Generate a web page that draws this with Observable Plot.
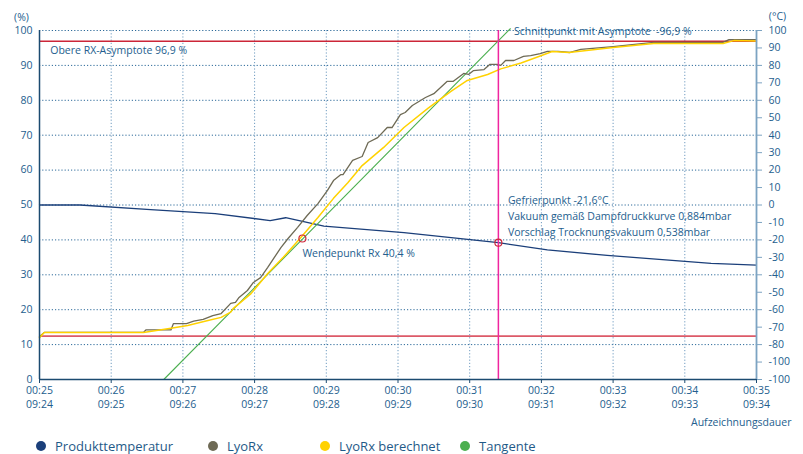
<!DOCTYPE html>
<html>
<head>
<meta charset="utf-8">
<script src="https://cdn.jsdelivr.net/npm/d3@7"></script>
<script src="https://cdn.jsdelivr.net/npm/@observablehq/plot@0.6"></script>
<style>
  body { margin: 0; background: #fff; font-family: "Open Sans", sans-serif; }
  #chart { position: relative; width: 803px; }
  #legend { position: relative; width: 803px; height: 22px; font-size: 13px; color: #1f5a88; }
  .item { position: absolute; top: 4px; white-space: nowrap; line-height: 16px; }
  .dot { position: absolute; top: 3px; width: 10px; height: 10px; border-radius: 50%; }
</style>
</head>
<body>
<div id="chart"></div>
<div id="legend"></div>
<script>
// ---- data (seconds since 00:25:00) ----
const elapsedLabels = ["00:25","00:26","00:27","00:28","00:29","00:30","00:31","00:32","00:33","00:34","00:35"];
const clockLabels   = ["09:24","09:25","09:26","09:27","09:28","09:29","09:30","09:31","09:32","09:33","09:34"];
const xTicks = [0,60,120,180,240,300,360,420,480,540,600];
const pctTicks = [0,10,20,30,40,50,60,70,80,90,100];
const tempTickLabels = ["100","90","80","70","60","50","40","30","20","10","0","-10","-20","-30","-40","-50","-60","-70","-80","-100","-100"];

const lyoT = [0,4,87,89,110,112,123,129,137,145,152,160,164,167,174,179,185,191,196,202,208,216,224,233,241,246,252,254,262,270,275,283,291,295,302,306,312,323,330,341,346,355,359,363,372,377,383,386,390,397,405,411,419,425,434,444,453,480,514,572,577,600];
const lyoV = [12.3,13.5,13.5,14.2,14.2,16.0,16.0,16.7,17.2,18.3,18.9,21.8,22.1,23.5,25.5,27.8,29.2,32.1,34.7,37.8,40.4,43.6,47.0,50.4,54.2,57.0,58.7,58.7,62.8,63.9,67.9,69.3,72.2,72.2,75.9,76.5,78.5,80.8,81.9,85.4,85.4,87.7,87.4,88.5,88.8,90.3,90.3,90.0,91.4,91.4,92.6,92.8,93.4,94.0,94.0,93.7,94.6,95.4,96.6,96.6,97.4,97.4];

const calcT = [0,4,87,110,124,141,152,160,162,177,191,204,218,233,246,258,270,288,305,325,344,358,375,386,403,419,429,443,480,514,572,581,600];
const calcV = [12.0,13.5,13.5,14.7,15.5,16.9,17.8,19.3,20.3,24.6,30.4,35.0,40.4,46.4,51.9,56.4,61.3,66.5,72.2,77.7,82.5,85.7,87.4,89.0,90.7,92.7,94.0,93.7,95.1,96.3,96.3,97.1,97.0];

const tempT = [0,34,93,147,193,206,238,305,384,425,475,562,600];
const tempC = [0,0,-2.6,-4.9,-8.9,-7.3,-12.1,-15.8,-21.6,-25.7,-28.9,-33.4,-34.4];

const tangentT = [104, 394];
const tangentV = [0, 100.5];

const asymptoteTop = 96.9;
const asymptoteBottom = 12.4;
const schnittT = 384;
const wendeT = 220, wendeV = 40.4;
const gefrierT = 384, gefrierC = -21.6;

// temperature mapped onto the percent scale (right axis 100 .. -100)
const toPct = c => 50 + c / 2;

const lyo = lyoT.map((t, i) => ({t, v: lyoV[i]}));
const calc = calcT.map((t, i) => ({t, v: calcV[i]}));
const temp = tempT.map((t, i) => ({t, v: toPct(tempC[i])}));
const tangent = tangentT.map((t, i) => ({t, v: tangentV[i]}));

const textColor = "#245e8e";
const font = "Open Sans";

const chart = Plot.plot({
  width: 803,
  height: 432,
  marginLeft: 39,
  marginRight: 47,
  marginTop: 30,
  marginBottom: 53,
  style: {fontFamily: font, fontSize: "10.5px", color: textColor, background: "#fff"},
  x: {domain: [0, 600]},
  y: {domain: [0, 100]},
  marks: [
    // grid
    Plot.ruleY(pctTicks.slice(1), {stroke: "#2d6a9a", strokeDasharray: "1.2,2", strokeWidth: 1}),
    Plot.ruleX(xTicks.slice(1, -1), {stroke: "#6f9bc0", strokeDasharray: "1.2,2", strokeWidth: 1}),
    // asymptotes
    Plot.ruleY([asymptoteTop], {stroke: "#cc2638", strokeWidth: 1.4}),
    Plot.ruleY([asymptoteBottom], {stroke: "#dc5a68", strokeWidth: 1.8}),
    // series
    Plot.line(temp, {x: "t", y: "v", stroke: "#1b3f7a", strokeWidth: 1.3}),
    Plot.line(tangent, {x: "t", y: "v", stroke: "#4caf50", strokeWidth: 1.1}),
    Plot.line(lyo, {x: "t", y: "v", stroke: "#6e6a55", strokeWidth: 1.3}),
    Plot.line(calc, {x: "t", y: "v", stroke: "#ffd200", strokeWidth: 1.5}),
    // intersection line
    Plot.ruleX([schnittT], {y1: 0, y2: 100, stroke: "#f0259f", strokeWidth: 1.5}),
    // points
    Plot.dot([{t: wendeT, v: wendeV}, {t: gefrierT, v: toPct(gefrierC)}], {x: "t", y: "v", r: 3.5, stroke: "#d0283c", strokeWidth: 1.2, fill: "none"}),
    // axes
    Plot.ruleX([0], {stroke: "#1b4a70", strokeWidth: 1.5}),
    Plot.ruleX([600], {stroke: "#7ca3c2", strokeWidth: 1.8}),
    Plot.ruleY([0], {stroke: "#1b4a70", strokeWidth: 1.5}),
    Plot.axisY(pctTicks, {anchor: "left", tickSize: 0, tickPadding: 7, fontSize: 10.5, fill: textColor, label: null}),
    Plot.axisY(d3.range(0, 101, 5), {anchor: "right", tickSize: 5, tickPadding: 7, stroke: "#7ca3c2", fill: textColor, fontSize: 10.5, label: null,
      tickFormat: d => tempTickLabels[Math.round((100 - d) / 5)]}),
    Plot.axisX(xTicks, {anchor: "bottom", tickSize: 4, tickPadding: 3, stroke: "#1b4a70", fill: textColor, fontSize: 10.5, label: null,
      tickFormat: d => elapsedLabels[xTicks.indexOf(d)]}),
    Plot.axisX(xTicks, {anchor: "bottom", tickSize: 0, tickPadding: 21, fill: textColor, fontSize: 10.5, label: null,
      tickFormat: d => clockLabels[xTicks.indexOf(d)]}),
    // unit labels
    Plot.text(["(%)"], {x: 0, y: 100, dx: -18, dy: -13, fill: textColor, fontSize: 10.5}),
    Plot.text(["(°C)"], {x: 600, y: 100, dx: 21, dy: -14, fill: textColor, fontSize: 10.5}),
    Plot.text(["Aufzeichnungsdauer"], {x: 600, y: 0, dx: 35, dy: 43, textAnchor: "end", fill: textColor, fontSize: 10.5}),
    // annotations
    Plot.text(["Obere RX-Asymptote 96,9 %"], {x: 9, y: 94.3, textAnchor: "start", fill: textColor, fontSize: 10.5}),
    Plot.text(["Schnittpunkt mit Asymptote  -96,9 %"], {x: 397, y: 99.8, textAnchor: "start", fill: textColor, fontSize: 10.5}),
    Plot.text(["Wendepunkt Rx 40,4 %"], {x: 220, y: 36.1, textAnchor: "start", fill: textColor, fontSize: 10.5}),
    Plot.text(["Gefrierpunkt -21,6°C", "Vakuum gemäß Dampfdruckkurve 0,884mbar", "Vorschlag Trocknungsvakuum 0,538mbar"],
      {x: 392, y: (d, i) => 51.2 - i * 4.6, textAnchor: "start", fill: textColor, fontSize: 10.5})
  ]
});
document.getElementById("chart").appendChild(chart);

// legend
const legendItems = [
  {name: "Produkttemperatur", color: "#1b3f7a", x: 41},
  {name: "LyoRx", color: "#6e6a55", x: 213},
  {name: "LyoRx berechnet", color: "#ffd200", x: 325},
  {name: "Tangente", color: "#4caf50", x: 465}
];
const legend = document.getElementById("legend");
for (const it of legendItems) {
  const dot = document.createElement("div");
  dot.className = "dot";
  dot.style.left = (it.x - 5) + "px";
  dot.style.top = "9px";
  dot.style.background = it.color;
  legend.appendChild(dot);
  const lab = document.createElement("div");
  lab.className = "item";
  lab.style.left = (it.x + 14) + "px";
  lab.style.top = "6px";
  lab.textContent = it.name;
  legend.appendChild(lab);
}
</script>
</body>
</html>
